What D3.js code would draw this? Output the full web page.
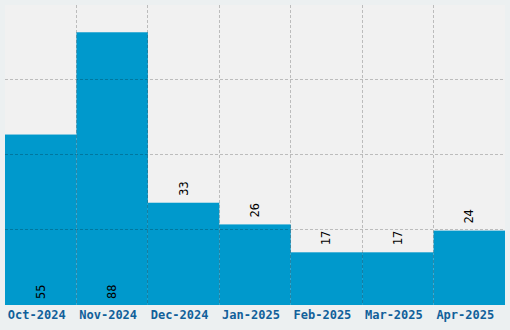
<!DOCTYPE html>
<html>
<head>
<meta charset="utf-8">
<script src="https://cdn.jsdelivr.net/npm/d3@7"></script>
<style>
  html, body { margin: 0; padding: 0; background: #ecf0f1; }
  svg { display: block; }
</style>
</head>
<body>
<script>
var months = ["Oct-2024", "Nov-2024", "Dec-2024", "Jan-2025", "Feb-2025", "Mar-2025", "Apr-2025"];
var counts = [55, 88, 33, 26, 17, 17, 24];

var width = 510, height = 330;
var plotLeft = 5, plotRight = 505, plotTop = 5, plotBottom = 305;

var svg = d3.select("body").append("svg")
    .attr("width", width)
    .attr("height", height);

// plot background
svg.append("rect")
    .attr("x", plotLeft).attr("y", plotTop)
    .attr("width", plotRight - plotLeft).attr("height", plotBottom - plotTop)
    .style("fill", "#f1f1f1");

var x = d3.scaleBand().domain(months).range([plotLeft, plotRight]).padding(0);
var yMax = d3.max(counts) * 1.1;
var y = d3.scaleLinear().domain([0, yMax]).range([plotBottom, plotTop]);

var data = months.map(function(m, i) { return {month: m, value: counts[i]}; });

// bars
svg.selectAll("rect.bar")
    .data(data)
    .enter()
    .append("rect")
    .attr("class", "bar")
    .attr("x", function(d) { return x(d.month); })
    .attr("y", function(d) { return y(d.value); })
    .attr("width", x.bandwidth())
    .attr("height", function(d) { return plotBottom - y(d.value); })
    .style("fill", "#0099cc");

// grid, drawn over the bars
var yTicks = [1, 2, 3].map(function(i) { return yMax * i / 4; });
svg.selectAll("line.hgrid")
    .data(yTicks)
    .enter()
    .append("line")
    .attr("class", "hgrid")
    .attr("x1", plotLeft).attr("x2", plotRight)
    .attr("y1", function(d) { return Math.round(y(d)) - 0.5; })
    .attr("y2", function(d) { return Math.round(y(d)) - 0.5; })
    .style("stroke", "rgba(0,0,0,0.22)")
    .style("stroke-dasharray", "3,2");

svg.selectAll("line.vgrid")
    .data(months.slice(1))
    .enter()
    .append("line")
    .attr("class", "vgrid")
    .attr("x1", function(d) { return Math.floor(x(d)) + 0.5; })
    .attr("x2", function(d) { return Math.floor(x(d)) + 0.5; })
    .attr("y1", plotTop).attr("y2", plotBottom)
    .style("stroke", "rgba(0,0,0,0.22)")
    .style("stroke-dasharray", "3,2");

// value labels (tall bars get theirs at the base)
svg.selectAll("text.val")
    .data(data)
    .enter()
    .append("text")
    .attr("class", "val")
    .attr("transform", function(d) {
        var cx = x(d.month) + x.bandwidth() / 2;
        var ly = d.value > yMax / 2 ? plotBottom - 6 : y(d.value) - 7;
        return "translate(" + (cx + 4) + "," + ly + ") rotate(-90)";
    })
    .style("font-family", "'DejaVu Sans Mono', monospace")
    .style("font-size", "12px")
    .style("fill", "#000")
    .text(function(d) { return d.value; });

// x axis labels
var xAxis = d3.axisBottom(x).tickSize(0).tickPadding(0);
var gx = svg.append("g")
    .attr("transform", "translate(-4," + plotBottom + ")")
    .call(xAxis);
gx.select(".domain").remove();
gx.selectAll("text")
    .attr("dy", "14px")
    .style("font-family", "'DejaVu Sans Mono', monospace")
    .style("font-weight", "bold")
    .style("font-size", "12px")
    .style("fill", "#11609a");
</script>
</body>
</html>
